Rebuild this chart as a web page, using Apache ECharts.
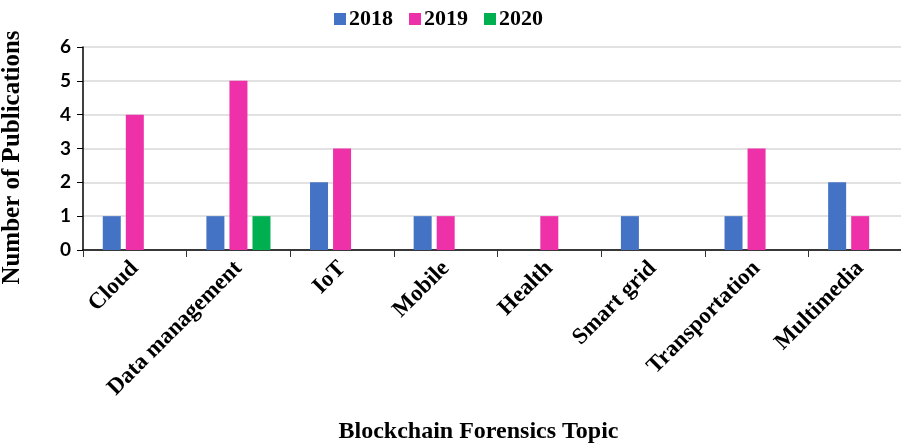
<!DOCTYPE html>
<html>
<head>
<meta charset="utf-8">
<script src="https://cdn.jsdelivr.net/npm/echarts@6/dist/echarts.min.js"></script>
<style>html,body{margin:0;padding:0;background:#fff;}#c{width:901px;height:445px;}</style>
</head>
<body>
<div id="c"></div>
<script>
var categories = ['Cloud', 'Data management', 'IoT', 'Mobile', 'Health', 'Smart grid', 'Transportation', 'Multimedia'];
var s2018 = [1, 1, 2, 1, 0, 1, 1, 2];
var s2019 = [4, 5, 3, 1, 1, 0, 3, 1];
var s2020 = [0, 1, 0, 0, 0, 0, 0, 0];
var yTicks = [0, 1, 2, 3, 4, 5, 6];

var serif = '"Liberation Serif", "Times New Roman", serif';
var chart = echarts.init(document.getElementById('c'));
function bar(name, data, color) {
  return {
    name: name, type: 'bar', data: data, barWidth: 18, barGap: '28%',
    itemStyle: { color: color }
  };
}
chart.setOption({
  animation: false,
  backgroundColor: '#fff',
  legend: {
    top: 3, left: 329, itemWidth: 12, itemHeight: 12, itemGap: 16,
    icon: 'rect',
    textStyle: { fontFamily: serif, fontWeight: 'bold', fontSize: 22, color: '#000', padding: [0, 0, 0, -2] },
    data: ['2018', '2019', '2020']
  },
  grid: { left: 83, right: -11, top: 47, bottom: 195, containLabel: false, outerBoundsMode: 'none' },
  xAxis: {
    type: 'category', data: categories,
    name: 'Blockchain Forensics Topic', nameLocation: 'middle', nameGap: 170,
    nameTextStyle: { fontFamily: serif, fontWeight: 'bold', fontSize: 24, color: '#000', padding: [0, 38, 0, 0] },
    axisLine: { lineStyle: { color: '#000', width: 1.5 } },
    axisTick: { show: true, length: 7, lineStyle: { color: '#333' }, alignWithLabel: false },
    axisLabel: { rotate: 45, margin: 15, fontFamily: serif, fontWeight: 'bold', fontSize: 23, color: '#000', interval: 0 }
  },
  yAxis: {
    type: 'value', min: yTicks[0], max: yTicks[yTicks.length - 1], interval: 1,
    name: 'Number of Publications', nameLocation: 'middle', nameGap: 58, nameRotate: 90,
    nameTextStyle: { fontFamily: serif, fontWeight: 'bold', fontSize: 25, color: '#000', padding: [0, 18, 0, 0] },
    axisLine: { show: true, lineStyle: { color: '#000', width: 1.5 } },
    axisTick: { show: true, length: 6, lineStyle: { color: '#000' } },
    axisLabel: { margin: 12, fontFamily: 'Lato, "Open Sans", sans-serif', fontWeight: 'bold', fontSize: 19, color: '#000' },
    splitLine: { lineStyle: { color: '#d9d9d9', width: 1.5 } }
  },
  series: [
    bar('2018', s2018, '#4472C4'),
    bar('2019', s2019, '#EE30A9'),
    bar('2020', s2020, '#00B050')
  ]
});
</script>
</body>
</html>
